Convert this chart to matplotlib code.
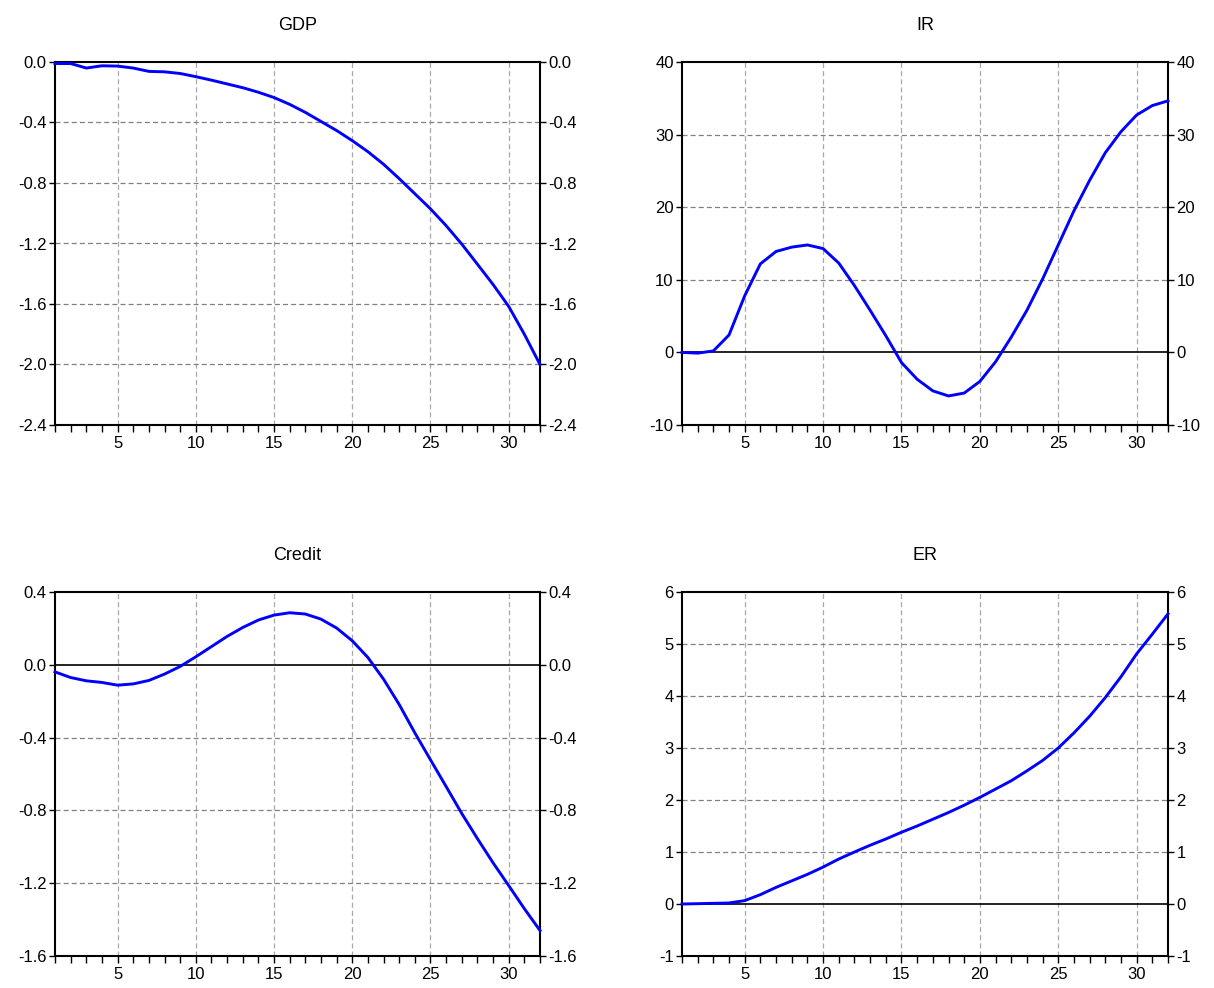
import matplotlib
matplotlib.use("Agg")
import matplotlib.pyplot as plt
from matplotlib.ticker import MultipleLocator, FixedLocator, FuncFormatter

plt.rcParams['font.family'] = ['Liberation Sans', 'DejaVu Sans']
plt.rcParams['axes.unicode_minus'] = False

periods = list(range(1, 33))

gdp = [-0.01, -0.01, -0.04, -0.025, -0.027, -0.04, -0.062, -0.065, -0.076, -0.097,
       -0.12, -0.145, -0.17, -0.2, -0.235, -0.28, -0.333, -0.393, -0.453, -0.52,
       -0.593, -0.676, -0.771, -0.871, -0.971, -1.082, -1.204, -1.337, -1.471, -1.616,
       -1.8, -2.0]
ir = [0.0, -0.1, 0.2, 2.4, 7.8, 12.2, 13.9, 14.5, 14.8, 14.3,
      12.3, 9.2, 5.8, 2.3, -1.4, -3.7, -5.3, -6.0, -5.6, -4.0,
      -1.3, 2.1, 5.8, 10.1, 14.8, 19.5, 23.7, 27.5, 30.4, 32.7,
      34.0, 34.65]
credit = [-0.039, -0.07, -0.088, -0.097, -0.112, -0.105, -0.086, -0.051, -0.009, 0.044,
          0.10, 0.156, 0.205, 0.246, 0.273, 0.286, 0.279, 0.251, 0.202, 0.132,
          0.04, -0.079, -0.218, -0.374, -0.522, -0.669, -0.817, -0.955, -1.088, -1.213,
          -1.34, -1.46]
er = [0.0, 0.006, 0.013, 0.02, 0.065, 0.18, 0.32, 0.445, 0.57, 0.71,
      0.865, 1.0, 1.13, 1.25, 1.38, 1.50, 1.63, 1.76, 1.90, 2.05,
      2.21, 2.37, 2.56, 2.76, 3.0, 3.29, 3.61, 3.97, 4.37, 4.81,
      5.19, 5.58]

titles = ["GDP", "IR", "Credit", "ER"]
series = [gdp, ir, credit, er]
ylims = [(-2.4, 0.0), (-10, 40), (-1.6, 0.4), (-1, 6)]
ysteps = [0.4, 10, 0.4, 1]
ydecimals = [1, 0, 1, 0]
zero_line = [False, True, True, True]

fig = plt.figure(figsize=(12.14, 9.88), dpi=100)
W, H = 1214.0, 988.0
boxes = [(55, 62, 540, 425), (682, 62, 1168, 425),
         (55, 592, 540, 956), (682, 592, 1168, 956)]


def make_fmt(nd):
    def f(v, pos):
        if abs(v) < 1e-9:
            v = 0.0
        return ('%.' + str(nd) + 'f') % v
    return FuncFormatter(f)


for i in range(4):
    x0, y0, x1, y1 = boxes[i]
    ax = fig.add_axes([x0 / W, 1 - y1 / H, (x1 - x0) / W, (y1 - y0) / H])
    lo, hi = ylims[i]
    step = ysteps[i]
    ax.set_xlim(1, 32)
    ax.set_ylim(lo, hi)
    n = int(round((hi - lo) / step))
    yt = [round(lo + k * step, 6) for k in range(n + 1)]
    ax.yaxis.set_major_locator(FixedLocator(yt))
    ax.yaxis.set_major_formatter(make_fmt(ydecimals[i]))
    ax.xaxis.set_major_locator(FixedLocator([5, 10, 15, 20, 25, 30]))
    ax.xaxis.set_minor_locator(MultipleLocator(1))

    # grid
    for xv in [5, 10, 15, 20, 25, 30]:
        ax.axvline(xv, color='#a8a8a8', lw=0.9, ls=(0, (4, 2.5)), zorder=1)
    for yv in yt:
        if zero_line[i] and abs(yv) < 1e-9:
            continue
        if abs(yv - lo) < 1e-9 or abs(yv - hi) < 1e-9:
            continue
        ax.axhline(yv, color='#808080', lw=0.9, ls=(0, (4, 2.5)), zorder=1)
    if zero_line[i]:
        ax.axhline(0, color='black', lw=1.2, zorder=2)

    ax.plot(periods, series[i], color='#0000ff', lw=2.1, zorder=3, clip_on=False)

    for s in ax.spines.values():
        s.set_linewidth(1.5)
        s.set_color('black')
    ax.tick_params(axis='y', which='both', left=True, right=True,
                   labelleft=True, labelright=True, direction='out',
                   length=4, width=1, pad=2, labelsize=12)
    ax.tick_params(axis='x', which='both', bottom=True, top=False,
                   direction='out', length=5, width=1, pad=3, labelsize=12)
    ax.set_title(titles[i], fontsize=13, pad=23)

fig.savefig("out.png", dpi=100)
